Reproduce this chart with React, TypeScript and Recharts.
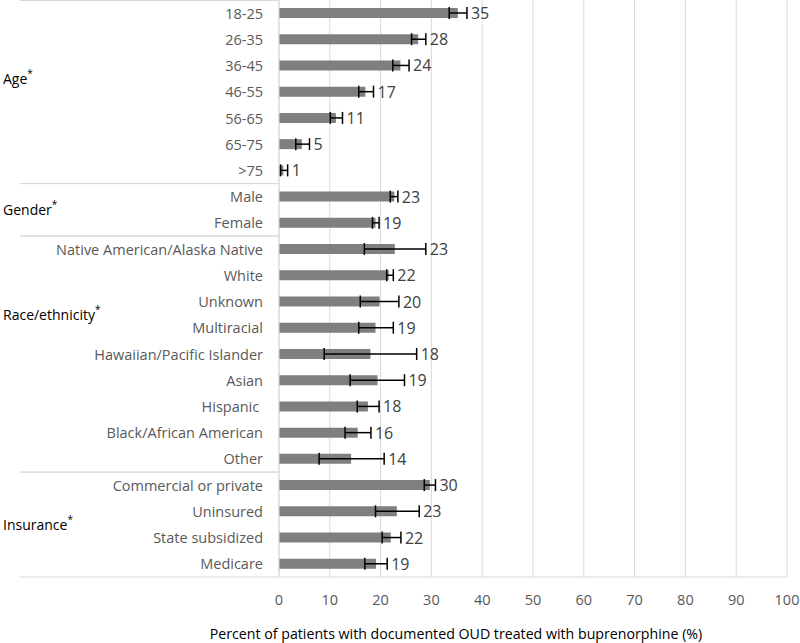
import { BarChart, Bar, XAxis, YAxis, CartesianGrid, ErrorBar, LabelList } from "recharts";

const categories = [
  "18-25", "26-35", "36-45", "46-55", "56-65", "65-75", ">75",
  "Male", "Female",
  "Native American/Alaska Native", "White", "Unknown", "Multiracial",
  "Hawaiian/Pacific Islander", "Asian", "Hispanic ", "Black/African American", "Other",
  "Commercial or private", "Uninsured", "State subsidized", "Medicare",
];
const values = [35.2, 27.4, 23.9, 17.0, 11.2, 4.5, 0.85, 22.7, 19.0, 22.8, 21.6, 19.8, 19.0, 18.0, 19.4, 17.5, 15.5, 14.2, 29.7, 23.2, 22.0, 19.1];
const errLow = [33.5, 26.1, 22.4, 15.7, 10.1, 3.3, 0.3, 21.9, 18.4, 16.8, 21.2, 16.0, 15.7, 8.9, 14.0, 15.4, 13.0, 7.9, 28.6, 19.0, 20.3, 16.9];
const errHigh = [37.0, 28.9, 25.6, 18.6, 12.5, 6.0, 1.7, 23.4, 19.7, 28.9, 22.5, 23.6, 22.5, 27.1, 24.7, 19.7, 18.1, 20.7, 30.8, 27.6, 24.0, 21.3];
const labels = ["35", "28", "24", "17", "11", "5", "1", "23", "19", "23", "22", "20", "19", "18", "19", "18", "16", "14", "30", "23", "22", "19"];

const groups = ["Age", "Gender", "Race/ethnicity", "Insurance"];
const groupSizes = [7, 2, 9, 4];
const xTicks = [0, 10, 20, 30, 40, 50, 60, 70, 80, 90, 100];

// where Excel put each group caption (row index, fractional)
const GROUP_LABEL_ROW = [2.5, 0.5, 2.5, 1.5];

const W = 800;
const H = 643;
const Y_AXIS_W = 279;
const X_AXIS_H = 66;
const RIGHT = 13;
const BAND = (H - X_AXIS_H) / categories.length;
const FONT = "'Open Sans', sans-serif";

const data = categories.map((name, i) => ({
  name,
  value: values[i],
  err: [values[i] - errLow[i], errHigh[i] - values[i]],
  label: labels[i],
}));

// row -> group info
const rowInfo = categories.map(() => ({ start: false, end: false, group: -1, frac: 0 }));
{
  let r = 0;
  groupSizes.forEach((n, g) => {
    rowInfo[r].start = true;
    rowInfo[r + n - 1].end = true;
    const lr = GROUP_LABEL_ROW[g];
    const at = r + Math.floor(lr);
    rowInfo[at].group = g;
    rowInfo[at].frac = lr - Math.floor(lr);
    r += n;
  });
}

const CategoryTick = (props: any) => {
  const { x, y, payload, index } = props;
  const info = rowInfo[index];
  const axisX = x + 16;
  return (
    <g>
      <text x={x} y={y} textAnchor="end" dominantBaseline="central" fill="#595959"
        fontSize={14.5} fontFamily={FONT} style={{ whiteSpace: "pre" }}>
        {payload.value}
      </text>
      {info.start && (
        <line x1={20} x2={axisX} y1={Math.max(y - BAND / 2, 0.5)} y2={Math.max(y - BAND / 2, 0.5)} stroke="#d9d9d9" />
      )}
      {info.end && (
        <line x1={20} x2={axisX} y1={y + BAND / 2} y2={y + BAND / 2} stroke="#d9d9d9" />
      )}
      {info.group >= 0 && (
        <text x={3} y={y + info.frac * BAND} dominantBaseline="central" fill="#000" fontSize={14} fontFamily={FONT}>
          {groups[info.group]}
          <tspan dy={-6} fontSize={10}>*</tspan>
        </text>
      )}
    </g>
  );
};

const ValueLabel = (props: any) => {
  const { x, y, width, height, index } = props;
  const hiX = x + (width * errHigh[index]) / values[index];
  return (
    <text x={hiX + 4} y={y + height / 2} dominantBaseline="central" fill="#404040" fontSize={16} fontFamily={FONT}>
      {labels[index]}
    </text>
  );
};

export default function App() {
  return (
    <div style={{ position: "absolute", left: 0, top: 0, width: W, height: H, background: "#fff" }}>
      <BarChart width={W} height={H} data={data} layout="vertical"
        margin={{ top: 0, right: RIGHT, left: 0, bottom: 0 }} barCategoryGap={0}>
        <CartesianGrid horizontal={false} stroke="#d9d9d9" />
        <XAxis type="number" domain={[0, 100]} ticks={xTicks} height={X_AXIS_H}
          axisLine={{ stroke: "#d9d9d9" }} tickLine={false} tickSize={0} tickMargin={18}
          tick={{ fill: "#595959", fontSize: 14.5, fontFamily: FONT }}
          label={{ value: "Percent of patients with documented OUD treated with buprenorphine (%)",
            position: "insideBottom", offset: 4, dx: -77, fill: "#000", fontSize: 14.2, fontFamily: FONT }} />
        <YAxis type="category" dataKey="name" width={Y_AXIS_W} interval={0}
          axisLine={{ stroke: "#d9d9d9" }} tickLine={false} tickSize={0} tickMargin={16}
          tick={<CategoryTick />} />
        <Bar dataKey="value" fill="#7f7f7f" barSize={10} isAnimationActive={false}>
          <ErrorBar dataKey="err" direction="x" width={6} stroke="#000" strokeWidth={1.5} />
          <LabelList dataKey="label" content={<ValueLabel />} />
        </Bar>
      </BarChart>
    </div>
  );
}
